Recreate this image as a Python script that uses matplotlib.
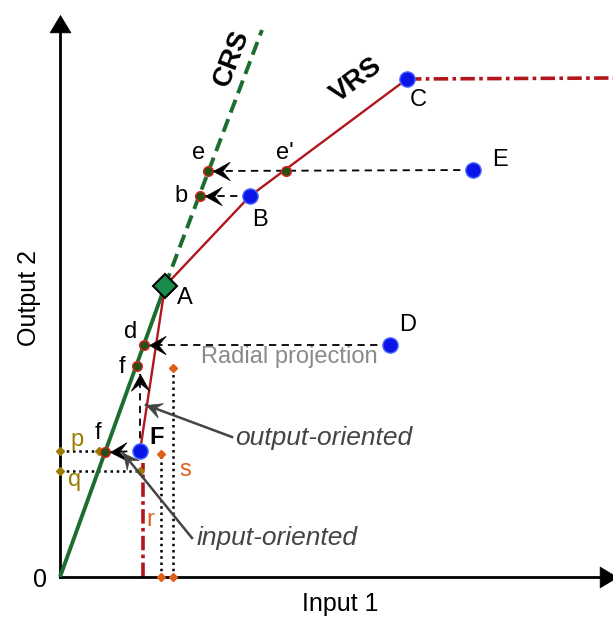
import numpy as np
import matplotlib
matplotlib.use("Agg")
import matplotlib.pyplot as plt
from matplotlib.path import Path
from matplotlib.markers import MarkerStyle
from matplotlib.transforms import Affine2D

plt.rcParams['font.family'] = ['Liberation Sans', 'DejaVu Sans']

# --- data (input 1 / output 2 units) ---
crs_x = [0, 105, 202]          # CRS frontier: solid to A, dashed beyond
crs_y = [0, 291, 547]
vrs_x = [80, 105, 190, 347]    # VRS frontier F - A - B - C
vrs_y = [126, 291, 381, 498]
vrs_flat_x = [347, 553]        # horizontal extension from C
vrs_flat_y = [498, 499]
vrs_vert_x = [83, 83]          # vertical extension below F
vrs_vert_y = [0, 114]

dmu_names = ['C', 'E', 'B', 'D', 'F']
dmu_x = [347, 413, 190, 330, 80]
dmu_y = [498, 407, 381, 232, 126]

anchor_A = (105, 291)

# projections on the CRS frontier
proj_names = ['e', "e'", 'b', 'd', 'f', 'f']
proj_x = [148, 226, 140, 84, 77, 45]
proj_y = [406, 406, 381, 232, 211, 125]

# input / output amounts (p, q, r, s)
p_y, q_y = 126, 106
p_x, q_x = 39, 80
r_x, r_top = 101, 123
s_x, s_top = 113, 209

green = '#1c6e2e'
red = '#b0161c'
blue = '#0a14e6'
olive = '#9a7c00'
orange = '#e0601a'

fig = plt.figure(figsize=(6.13, 6.18), dpi=100)
ax = fig.add_axes([0, 0, 1, 1])
ax.set_xlim(-60, 553)
ax.set_ylim(-41, 577)
ax.axis('off')


def head(x, y, dx, dy, size, color, notch=0.6, width=0.5):
    # arrow head drawn as a rotated marker with its tip at (x, y)
    verts = [(0, 0), (-1, width), (-notch, 0), (-1, -width), (0, 0)]
    path = Path(verts, [Path.MOVETO] + [Path.LINETO] * 3 + [Path.CLOSEPOLY])
    ang = np.degrees(np.arctan2(dy, dx))
    m = MarkerStyle(path, transform=Affine2D().rotate_deg(ang))
    ax.plot([x], [y], marker=m, ms=size, color=color, mec=color, mew=0.5,
            zorder=9, clip_on=False)


# axes with arrow heads
ax.plot([0, 0], [0, 550], color='black', lw=2, zorder=3)
ax.plot([0, 545], [0, 0], color='black', lw=2, zorder=3)
head(0, 562, 0, 1, 25, 'black', notch=1.0, width=0.6)
head(557, 0, 1, 0, 25, 'black', notch=1.0, width=0.6)

# CRS frontier
ax.plot(crs_x[:2], crs_y[:2], color=green, lw=2.8, solid_capstyle='butt', zorder=3)
ax.plot(crs_x[1:], crs_y[1:], color=green, lw=2.8, dashes=(3.5, 1.8), zorder=3)

# VRS frontier
ax.plot(vrs_x, vrs_y, color=red, lw=1.7, zorder=4)
ax.plot(vrs_flat_x, vrs_flat_y, color=red, lw=2.6, dashes=(4, 1.2, 1, 1.2), zorder=4)
ax.plot(vrs_vert_x, vrs_vert_y, color=red, lw=2.6, dashes=(4, 1.2, 1, 1.2), zorder=2)


def dashed_arrow(x0, y0, x1, y1):
    ax.plot([x0, x1], [y0, y1], color='black', lw=1.3, dashes=(4, 3), zorder=2)
    head(x1, y1, x1 - x0, y1 - y0, 24, 'black', notch=0.55, width=0.55)


dashed_arrow(dmu_x[1], dmu_y[1], proj_x[0] + 5, proj_y[0])   # E -> e
dashed_arrow(dmu_x[2], dmu_y[2], proj_x[2] + 5, proj_y[2])   # B -> b
dashed_arrow(dmu_x[3], dmu_y[3], proj_x[3] + 5, proj_y[3])   # D -> d
dashed_arrow(dmu_x[4], dmu_y[4], proj_x[5] + 5, proj_y[5])   # F -> f (input)
dashed_arrow(dmu_x[4], dmu_y[4], dmu_x[4], proj_y[4] - 8)    # F -> f (output)

# dotted guides p, q, r, s
ax.plot([0, p_x], [p_y, p_y], color='black', lw=1.8, ls=(0, (1, 1.5)), zorder=2)
ax.plot([0, q_x], [q_y, q_y], color='black', lw=1.8, ls=(0, (1, 1.5)), zorder=2)
ax.plot([r_x, r_x], [0, r_top], color='black', lw=1.8, ls=(0, (1, 1.5)), zorder=2)
ax.plot([s_x, s_x], [0, s_top], color='black', lw=1.8, ls=(0, (1, 1.5)), zorder=2)
ax.plot([0, p_x, 0, q_x], [p_y, p_y, q_y, q_y], 'D', color=olive, ms=4.5, zorder=5)
ax.plot([r_x, r_x, s_x, s_x], [0, r_top, 0, s_top], 'D', color=orange, ms=4.5, zorder=5)

# points
ax.plot(proj_x, proj_y, 'o', ms=7, mfc='#245212', mec='#e02020', mew=1, zorder=7)
ax.plot(dmu_x, dmu_y, 'o', ms=11, mfc=blue, mec='#4a6cff', mew=1, zorder=8)
ax.plot(*anchor_A, 'D', ms=12, mfc='#1a8c4c', mec='black', mew=1.5, zorder=8)

# labels
fs = 17
lbl = dict(fontsize=fs, ha='center', va='center', zorder=9)
ax.text(172, 519, 'CRS', fontsize=20, fontweight='bold', rotation=69, ha='center', va='center')
ax.text(296, 497, 'VRS', fontsize=20, fontweight='bold', rotation=37, ha='center', va='center')
ax.text(358, 477, 'C', **lbl)
ax.text(440, 417, 'E', **lbl)
ax.text(139, 424, 'e', **lbl)
ax.text(225, 424, "e'", **lbl)
ax.text(121, 381, 'b', **lbl)
ax.text(200, 357, 'B', **lbl)
ax.text(125, 279, 'A', **lbl)
ax.text(71, 245, 'd', **lbl)
ax.text(348, 252, 'D', **lbl)
ax.text(62, 210, 'f', **lbl)
ax.text(38, 144, 'f', **lbl)
ax.text(97, 139, 'F', fontsize=fs, fontweight='bold', ha='center', va='center')
ax.text(17, 137, 'p', fontsize=fs, color=olive, ha='center', va='center')
ax.text(15, 97, 'q', fontsize=fs, color=olive, ha='center', va='center')
ax.text(90, 57, 'r', fontsize=fs, color=orange, ha='center', va='center')
ax.text(125, 107, 's', fontsize=fs, color=orange, ha='center', va='center')
ax.text(229, 220, 'Radial projection', fontsize=17, color='#8a8a8a', ha='center', va='center')

ax.text(175, 139, 'output-oriented', fontsize=19, style='italic', color='#444444',
        ha='left', va='center')
ax.plot([172, 86], [140, 172], color='#444444', lw=1.8, zorder=6)
head(86, 172, 86 - 172, 172 - 140, 22, '#444444')
ax.text(137, 39, 'input-oriented', fontsize=19, style='italic', color='#444444',
        ha='left', va='center')
ax.plot([132, 63], [39, 124], color='#444444', lw=1.8, zorder=6)
head(63, 124, 63 - 132, 124 - 39, 22, '#444444')

ax.text(-31, 279, 'Output 2', fontsize=18, rotation=90, ha='center', va='center')
ax.text(280, -27, 'Input 1', fontsize=18, ha='center', va='center')
ax.text(-20, -3, '0', fontsize=18, ha='center', va='center')

fig.savefig('out.png', dpi=100)
